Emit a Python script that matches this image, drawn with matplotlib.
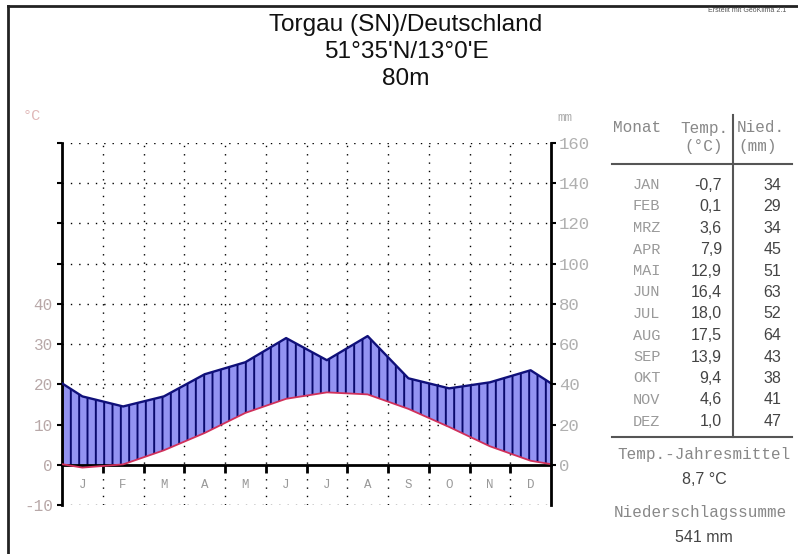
import matplotlib
matplotlib.use("Agg")
import matplotlib.pyplot as plt
import numpy as np

# ---------------- data ----------------
station = "Torgau (SN)/Deutschland"
coords = "51°35'N/13°0'E"
elevation = "80m"
month_letters = ["J", "F", "M", "A", "M", "J", "J", "A", "S", "O", "N", "D"]
month_abbr = ["JAN", "FEB", "MRZ", "APR", "MAI", "JUN", "JUL", "AUG", "SEP", "OKT", "NOV", "DEZ"]
temp = [-0.7, 0.1, 3.6, 7.9, 12.9, 16.4, 18.0, 17.5, 13.9, 9.4, 4.6, 1.0]
precip = [34, 29, 34, 45, 51, 63, 52, 64, 43, 38, 41, 47]
temp_labels = ["-0,7", "0,1", "3,6", "7,9", "12,9", "16,4", "18,0", "17,5", "13,9", "9,4", "4,6", "1,0"]
mean_temp_text = "8,7 °C"
precip_sum_text = "541 mm"
left_ticks = [-10, 0, 10, 20, 30, 40, 50, 60, 70, 80]
left_ticklabels = ["-10", "0", "10", "20", "30", "40", "", "", "", ""]
right_ticks = [0, 20, 40, 60, 80, 100, 120, 140, 160]

W, H = 798, 554
fig = plt.figure(figsize=(W / 100, H / 100), dpi=100)
fig.patch.set_facecolor("white")

def fx(px):
    return px / W

def fy(py):
    return 1 - py / H

mono = "Liberation Mono"
sans = "Liberation Sans"

# frame lines (left + top)
fig.add_artist(plt.Line2D([fx(8), fx(8)], [fy(6), 0], color="#222222", lw=2.0))
fig.add_artist(plt.Line2D([fx(8), 1], [fy(6), fy(6)], color="#222222", lw=2.0))

# titles
for txt, yy in [(station, 25), (coords, 52), (elevation, 79)]:
    fig.text(fx(406), fy(yy), txt, ha="center", va="center", fontsize=17.6,
             family=sans, color="#111111")
fig.text(fx(747), fy(10), "Erstellt mit GeoKlima 2.1", ha="center", va="center",
         fontsize=5, family=sans, color="#555555")

# ---------------- chart ----------------
ax = fig.add_axes([fx(62), fy(505), fx(551) - fx(62), fy(143) - fy(505)])
ax.set_xlim(0, 12)
ax.set_ylim(-10, 80)

x_mid = np.arange(12) + 0.5
edge_t = (temp[0] + temp[-1]) / 2
edge_p = (precip[0] + precip[-1]) / 2
xs = np.concatenate([[0], x_mid, [12]])
ts = np.concatenate([[edge_t], temp, [edge_t]])
ps = np.concatenate([[edge_p], precip, [edge_p]]) / 2.0  # 10 °C = 20 mm

# dotted grid
dot = (0, (1, 5))
for yv in [-10, 10, 20, 30, 40, 50, 60, 70, 80]:
    ax.axhline(yv, color="black", lw=1.0, linestyle=dot, zorder=1)
for xv in range(1, 12):
    ax.axvline(xv, color="black", lw=1.0, linestyle=dot, zorder=1)

# humid period fill with vertical hatching
plt.rcParams["hatch.linewidth"] = 1.4
plt.rcParams["hatch.color"] = "#0a0a6e"
ax.fill_between(xs, ts, ps, where=ps >= ts, facecolor="#9393f2",
                edgecolor="#0a0a6e", hatch="||", lw=0, zorder=2)
ax.plot(xs, ps, color="#10107a", lw=1.7, zorder=4)
ax.plot(xs, ts, color="#d0305a", lw=1.3, zorder=4)

# axes styling
for s in ["top", "right"]:
    ax.spines[s].set_visible(False)
ax.spines["left"].set_linewidth(2.0)
ax.spines["bottom"].set_position(("data", 0))
ax.spines["bottom"].set_linewidth(2.0)
ax.set_xticks(range(1, 12))
ax.set_xticklabels([])
ax.tick_params(axis="x", which="major", direction="out", length=6, width=2.0)
ax.set_xticks(x_mid, minor=True)
ax.set_xticklabels(month_letters, minor=True, fontsize=9, family=mono, color="#999999")
ax.tick_params(axis="x", which="minor", length=0, pad=10)
ax.set_yticks(left_ticks)
ax.set_yticklabels(left_ticklabels, fontsize=11.5, family=mono, color="#b8a8a8")
ax.tick_params(axis="y", direction="out", length=3.5, width=1.5, pad=3)

ax2 = ax.twinx()
ax2.set_ylim(-20, 160)
for s in ["top", "left", "bottom"]:
    ax2.spines[s].set_visible(False)
ax2.spines["right"].set_linewidth(2.0)
ax2.set_yticks(right_ticks)
ax2.set_yticklabels([str(v) for v in right_ticks], fontsize=12.5, family=mono, color="#b0b0b0")
ax2.tick_params(axis="y", direction="out", length=3.5, width=1.5, pad=2)

fig.text(fx(23), fy(116), "°C", fontsize=11, family=mono, color="#e0b8b8", va="center")
fig.text(fx(557), fy(118), "mm", fontsize=9, family=mono, color="#aaaaaa", va="center")

# ---------------- table ----------------
hdr_col = "#888888"
fig.text(fx(613), fy(128), "Monat", fontsize=11.5, family=mono, color=hdr_col, va="center")
fig.text(fx(680), fy(128), "Temp.", fontsize=11.5, family=mono, color=hdr_col, va="center")
fig.text(fx(737), fy(128), "Nied.", fontsize=11.5, family=mono, color=hdr_col, va="center")
fig.text(fx(723), fy(147), "(°C)", fontsize=11.5, family=mono, color=hdr_col, va="center", ha="right")
fig.text(fx(738), fy(147), "(mm)", fontsize=11.5, family=mono, color=hdr_col, va="center")
fig.add_artist(plt.Line2D([fx(612), fx(792)], [fy(164), fy(164)], color="#555555", lw=1.5))
fig.add_artist(plt.Line2D([fx(612), fx(792)], [fy(437), fy(437)], color="#555555", lw=1.5))
fig.add_artist(plt.Line2D([fx(733), fx(733)], [fy(115), fy(437)], color="#555555", lw=1.5))

row0, dy = 185, 21.5
for i in range(12):
    yy = row0 + i * dy
    fig.text(fx(633), fy(yy), month_abbr[i], fontsize=11, family=mono, color="#999999", va="center")
    fig.text(fx(722), fy(yy), temp_labels[i], fontsize=11.5, family=sans, color="#444444",
             va="center", ha="right")
    fig.text(fx(781), fy(yy), str(precip[i]), fontsize=11.5, family=sans, color="#444444",
             va="center", ha="right")

fig.text(fx(617), fy(455), "Temp.-Jahresmittel", fontsize=11.5, family=mono, color="#888888", va="center")
fig.text(fx(704), fy(480), mean_temp_text, fontsize=11.5, family=sans, color="#444444",
         va="center", ha="center")
fig.text(fx(614), fy(512), "Niederschlagssumme", fontsize=11.5, family=mono, color="#888888", va="center")
fig.text(fx(704), fy(537), precip_sum_text, fontsize=11.5, family=sans, color="#444444",
         va="center", ha="center")

fig.savefig("out.png", dpi=100)
